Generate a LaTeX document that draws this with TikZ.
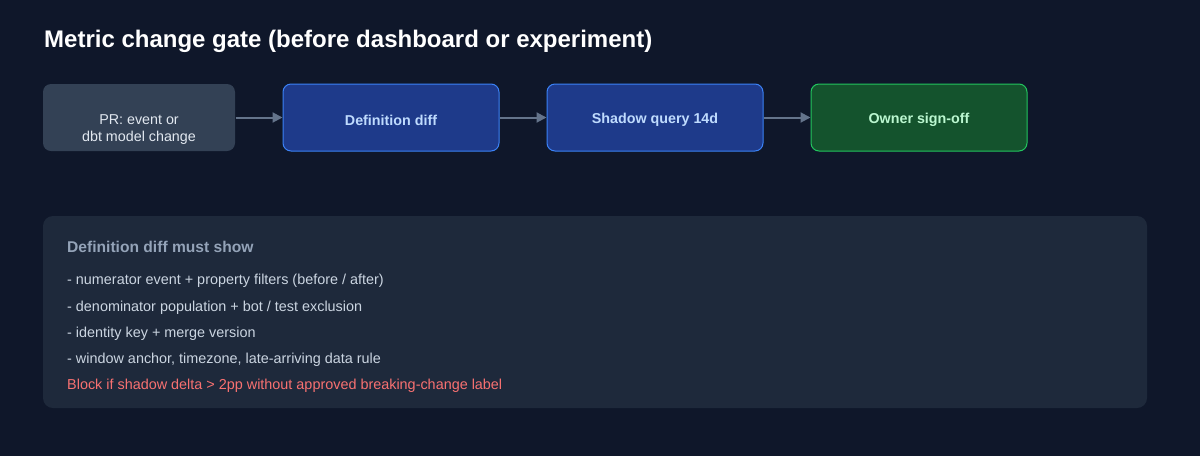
\documentclass[tikz,border=0pt]{standalone}
\usepackage{fontspec}
\setmainfont{Liberation Sans}
\usetikzlibrary{arrows.meta}
\definecolor{bgdark}{HTML}{0F172A}
\definecolor{prfill}{HTML}{334155}
\definecolor{bluefill}{HTML}{1E3A8A}
\definecolor{blueline}{HTML}{3B82F6}
\definecolor{bluetext}{HTML}{BFDBFE}
\definecolor{greenfill}{HTML}{14532D}
\definecolor{greenline}{HTML}{22C55E}
\definecolor{greentext}{HTML}{BBF7D0}
\definecolor{arrowgray}{HTML}{64748B}
\definecolor{panelfill}{HTML}{1E293B}
\definecolor{headgray}{HTML}{94A3B8}
\definecolor{itemgray}{HTML}{CBD5E1}
\definecolor{prtext}{HTML}{E2E8F0}
\definecolor{alertred}{HTML}{F87171}
\begin{document}
\begin{tikzpicture}[x=1pt,y=-1pt,
    stage/.style={rectangle,rounded corners=8pt,minimum width=216pt,
                  minimum height=67pt,line width=1pt,inner sep=0pt,
                  font=\fontsize{14.3}{17}\selectfont\bfseries},
    stagetext/.style={inner sep=0pt,align=center,
                  font=\fontsize{14.3}{17}\selectfont\bfseries},
    flow/.style={line width=2pt,draw=arrowgray,
                 -{Triangle[length=10pt,width=10pt]}},
    item/.style={anchor=west,inner sep=0pt,text=itemgray,
                 font=\fontsize{14.4}{17}\selectfont}]
  \useasboundingbox[fill=bgdark] (0,0) rectangle (1200,456);

  \node[anchor=west,inner sep=0pt,text=white,
        font=\fontsize{24}{28}\selectfont\bfseries] (title) at (44,41)
        {Metric change gate (before dashboard or experiment)};

  % stages
  \node[stage,fill=prfill,minimum width=192pt] (pr) at (139,117.5) {};
  \node[stagetext,text=prtext,font=\fontsize{14.3}{17}\selectfont]
        (prtxt) at (139,130) {PR: event or\\dbt model change};
  \node[stage,fill=bluefill,draw=blueline] (defdiff) at (391,117.5) {};
  \node[stagetext,text=bluetext] (defdifftxt) at (391,120)
        {Definition diff};
  \node[stage,fill=bluefill,draw=blueline] (shadow) at (655,117.5) {};
  \node[stagetext,text=bluetext] (shadowtxt) at (655,120)
        {Shadow query 14d};
  \node[stage,fill=greenfill,draw=greenline] (owner) at (919,117.5) {};
  \node[stagetext,text=greentext] (ownertxt) at (919,120)
        {Owner sign-off};

  \draw[flow] (pr.east) -- (defdiff.west);
  \draw[flow] (defdiff.east) -- (shadow.west);
  \draw[flow] (shadow.east) -- (owner.west);

  % checklist panel
  \fill[panelfill,rounded corners=10pt] (43,216) rectangle (1147,408);
  \node[anchor=west,inner sep=0pt,text=headgray,
        font=\fontsize{15.6}{18}\selectfont\bfseries] (musthead) at (67,246.5)
        {Definition diff must show};
  \node[item] (line1) at (67,281)
        {- numerator event + property filters (before / after)};
  \node[item] (line2) at (67,307.3)
        {- denominator population + bot / test exclusion};
  \node[item] (line3) at (67,333.7) {- identity key + merge version};
  \node[item] (line4) at (67,359.7)
        {- window anchor, timezone, late-arriving data rule};
  \node[item,text=alertred] (blockrule) at (67,386)
        {Block if shadow delta > 2pp without approved breaking-change label};
\end{tikzpicture}
\end{document}
